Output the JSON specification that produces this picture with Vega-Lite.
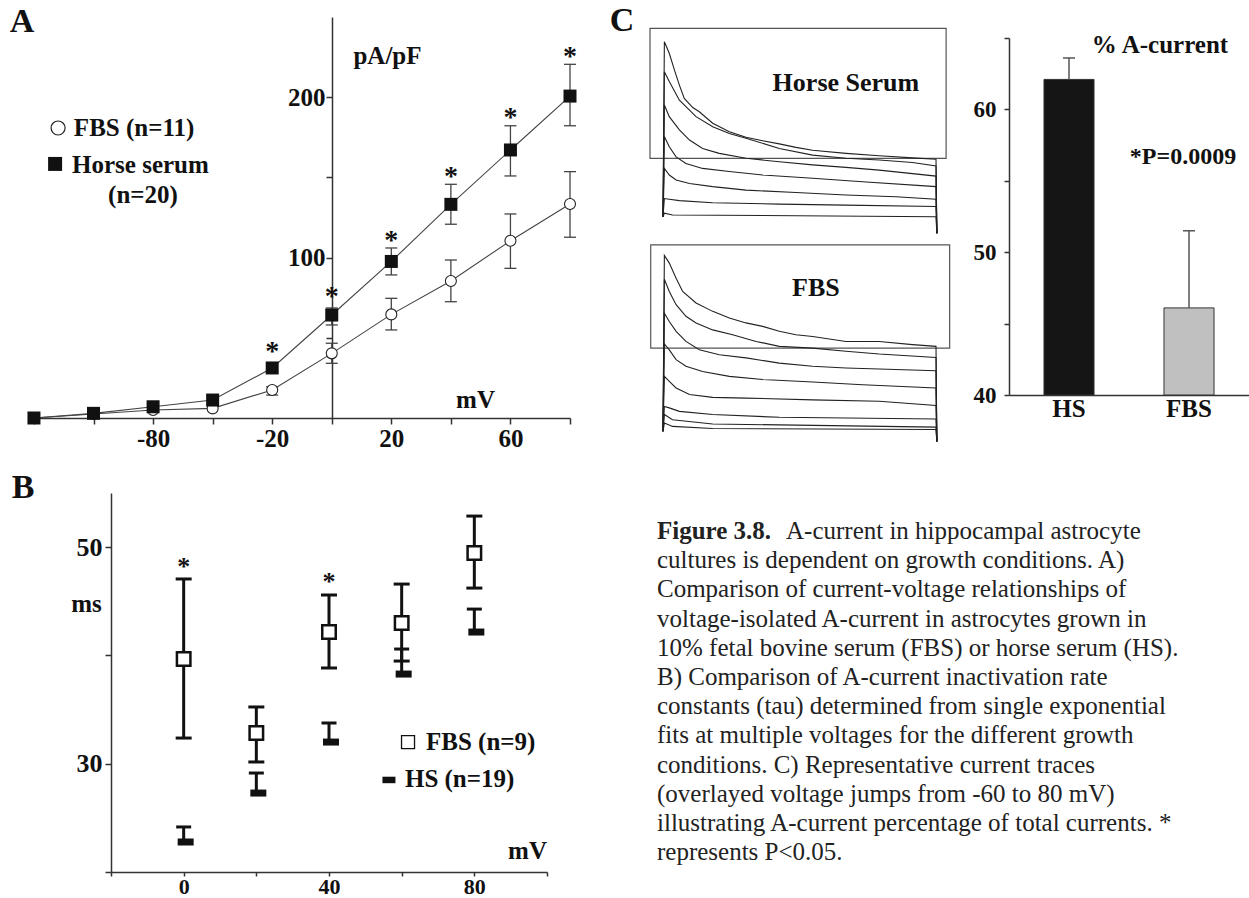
{
  "$schema": "https://vega.github.io/schema/vega-lite/v6.json",
  "background": "white",
  "padding": {"left": 9, "top": 4, "right": 0, "bottom": 0},
  "columns": 3,
  "spacing": {"row": 51, "column": 63},
  "bounds": "flush",
  "config": {
    "view": {"stroke": null},
    "axis": {"grid": false, "domainColor": "#333", "domainWidth": 1.5, "tickColor": "#333", "tickWidth": 1.5, "tickSize": 6,
      "labelFont": "Liberation Serif", "labelFontWeight": "bold", "labelFontSize": 25, "labelColor": "#111", "labelPadding": 3,
      "labelOverlap": false, "labelFlush": false,
      "titleFont": "Liberation Serif", "titleFontWeight": "bold", "titleFontSize": 25, "titleColor": "#111"},
    "text": {"font": "Liberation Serif", "fontWeight": "bold", "color": "#111"}
  },
  "datasets": {
    "iv": [
      {"g": "HS", "mv": -100, "v": 0}, {"g": "HS", "mv": -80, "v": 2.9}, {"g": "HS", "mv": -60, "v": 7}, {"g": "HS", "mv": -40, "v": 11.2},
      {"g": "HS", "mv": -20, "v": 31.2}, {"g": "HS", "mv": 0, "v": 64.2, "lo": 58, "hi": 68.6}, {"g": "HS", "mv": 20, "v": 97.6, "lo": 89.2, "hi": 106},
      {"g": "HS", "mv": 40, "v": 133.2, "lo": 120.8, "hi": 145.7}, {"g": "HS", "mv": 60, "v": 167.1, "lo": 150.9, "hi": 182.2},
      {"g": "HS", "mv": 80, "v": 200.7, "lo": 182.2, "hi": 220.5},
      {"g": "FBS", "mv": -100, "v": 0}, {"g": "FBS", "mv": -80, "v": 2.5}, {"g": "FBS", "mv": -60, "v": 5}, {"g": "FBS", "mv": -40, "v": 6},
      {"g": "FBS", "mv": -20, "v": 17.5, "lo": 14.3, "hi": 19.5}, {"g": "FBS", "mv": 0, "v": 40.3, "lo": 34.1, "hi": 46.6},
      {"g": "FBS", "mv": 20, "v": 64.6, "lo": 54.9, "hi": 74.6}, {"g": "FBS", "mv": 40, "v": 85.4, "lo": 72.5, "hi": 98.5},
      {"g": "FBS", "mv": 60, "v": 110.5, "lo": 93.3, "hi": 127.2}, {"g": "FBS", "mv": 80, "v": 133.4, "lo": 112.7, "hi": 153.6}
    ],
    "astA": [{"mv": -20, "v": 44.3}, {"mv": 0, "v": 78.6}, {"mv": 20, "v": 113.5}, {"mv": 40, "v": 153.4}, {"mv": 60, "v": 190.1}, {"mv": 80, "v": 228.2}],
    "legA": [{"g": "FBS", "mv": -91.9, "v": 180.8}, {"g": "HS", "mv": -92.9, "v": 158.4}],
    "legAtxt": [{"mv": -86.6, "v": 180.8, "label": "FBS (n=11)"}, {"mv": -87.2, "v": 157.7, "label": "Horse serum"}, {"mv": -75.1, "v": 139.3, "label": "(n=20)"}],
    "tauF": [
      {"mv": 0, "v": 39.67, "lo": 32.37, "hi": 47.06}, {"mv": 20, "v": 32.83, "lo": 30.16, "hi": 35.24},
      {"mv": 40, "v": 42.16, "lo": 38.84, "hi": 45.58}, {"mv": 60, "v": 42.99, "lo": 39.48, "hi": 46.59},
      {"mv": 80, "v": 49.45, "lo": 46.22, "hi": 52.87}
    ],
    "tauH": [
      {"mv": 0, "v": 22.77, "hi": 24.16}, {"mv": 20, "v": 27.29, "hi": 29.14}, {"mv": 40, "v": 32.0, "hi": 33.76},
      {"mv": 60, "v": 38.28, "hi": 40.59}, {"mv": 80, "v": 42.16, "hi": 44.28}
    ],
    "astB": [{"mv": 0, "v": 48.53}, {"mv": 40, "v": 47.15}],
    "traces": [
      {"g":"HS","k":1,"t":0,"i":0},{"g":"HS","k":1,"t":0.5,"i":5.0},{"g":"HS","k":1,"t":2.3,"i":4.67},{"g":"HS","k":1,"t":4.2,"i":4.19},{"g":"HS","k":1,"t":6.0,"i":3.76},{"g":"HS","k":1,"t":7.8,"i":3.38},{"g":"HS","k":1,"t":10.9,"i":3.12},{"g":"HS","k":1,"t":13.3,"i":3.0},{"g":"HS","k":1,"t":18.2,"i":2.67},{"g":"HS","k":1,"t":24.3,"i":2.43},{"g":"HS","k":1,"t":30.4,"i":2.27},{"g":"HS","k":1,"t":36.5,"i":2.17},{"g":"HS","k":1,"t":42.6,"i":2.08},{"g":"HS","k":1,"t":48.7,"i":1.98},{"g":"HS","k":1,"t":54.8,"i":1.9},{"g":"HS","k":1,"t":67.0,"i":1.81},{"g":"HS","k":1,"t":79.2,"i":1.74},{"g":"HS","k":1,"t":91.4,"i":1.68},{"g":"HS","k":1,"t":100,"i":1.64},{"g":"HS","k":1,"t":100.3,"i":-0.47},
      {"g":"HS","k":2,"t":0,"i":0},{"g":"HS","k":2,"t":0.5,"i":4.14},{"g":"HS","k":2,"t":2.3,"i":3.86},{"g":"HS","k":2,"t":6.0,"i":3.33},{"g":"HS","k":2,"t":12.1,"i":2.86},{"g":"HS","k":2,"t":18.2,"i":2.57},{"g":"HS","k":2,"t":24.3,"i":2.38},{"g":"HS","k":2,"t":30.4,"i":2.24},{"g":"HS","k":2,"t":42.6,"i":1.95},{"g":"HS","k":2,"t":54.8,"i":1.76},{"g":"HS","k":2,"t":67.0,"i":1.67},{"g":"HS","k":2,"t":79.2,"i":1.62},{"g":"HS","k":2,"t":91.4,"i":1.55},{"g":"HS","k":2,"t":100,"i":1.45},{"g":"HS","k":2,"t":100.3,"i":-0.47},
      {"g":"HS","k":3,"t":0,"i":0},{"g":"HS","k":3,"t":0.5,"i":3.19},{"g":"HS","k":3,"t":2.3,"i":2.86},{"g":"HS","k":3,"t":6.0,"i":2.48},{"g":"HS","k":3,"t":9.7,"i":2.19},{"g":"HS","k":3,"t":14.5,"i":1.95},{"g":"HS","k":3,"t":20.6,"i":1.81},{"g":"HS","k":3,"t":30.4,"i":1.67},{"g":"HS","k":3,"t":42.6,"i":1.57},{"g":"HS","k":3,"t":54.8,"i":1.48},{"g":"HS","k":3,"t":67.0,"i":1.41},{"g":"HS","k":3,"t":79.2,"i":1.33},{"g":"HS","k":3,"t":100,"i":1.16},{"g":"HS","k":3,"t":100.3,"i":-0.47},
      {"g":"HS","k":4,"t":0,"i":0},{"g":"HS","k":4,"t":0.5,"i":2.29},{"g":"HS","k":4,"t":2.3,"i":2.0},{"g":"HS","k":4,"t":4.8,"i":1.71},{"g":"HS","k":4,"t":8.4,"i":1.52},{"g":"HS","k":4,"t":14.5,"i":1.38},{"g":"HS","k":4,"t":24.3,"i":1.29},{"g":"HS","k":4,"t":36.5,"i":1.19},{"g":"HS","k":4,"t":54.8,"i":1.1},{"g":"HS","k":4,"t":73.1,"i":1.0},{"g":"HS","k":4,"t":100,"i":0.86},{"g":"HS","k":4,"t":100.3,"i":-0.47},
      {"g":"HS","k":5,"t":0,"i":0},{"g":"HS","k":5,"t":0.5,"i":1.38},{"g":"HS","k":5,"t":2.3,"i":1.19},{"g":"HS","k":5,"t":4.8,"i":1.05},{"g":"HS","k":5,"t":9.7,"i":0.95},{"g":"HS","k":5,"t":18.2,"i":0.86},{"g":"HS","k":5,"t":30.4,"i":0.76},{"g":"HS","k":5,"t":48.7,"i":0.69},{"g":"HS","k":5,"t":67.0,"i":0.62},{"g":"HS","k":5,"t":85.3,"i":0.57},{"g":"HS","k":5,"t":100,"i":0.5},{"g":"HS","k":5,"t":100.3,"i":-0.47},
      {"g":"HS","k":6,"t":0,"i":0},{"g":"HS","k":6,"t":0.5,"i":0.52},{"g":"HS","k":6,"t":2.3,"i":0.5},{"g":"HS","k":6,"t":6.0,"i":0.46},{"g":"HS","k":6,"t":18.2,"i":0.4},{"g":"HS","k":6,"t":42.6,"i":0.36},{"g":"HS","k":6,"t":67.0,"i":0.33},{"g":"HS","k":6,"t":100,"i":0.29},{"g":"HS","k":6,"t":100.3,"i":-0.47},
      {"g":"HS","k":7,"t":0,"i":0},{"g":"HS","k":7,"t":0.5,"i":0.1},{"g":"HS","k":7,"t":3.5,"i":0.05},{"g":"HS","k":7,"t":100,"i":0.0},{"g":"HS","k":7,"t":100.3,"i":-0.47},
      {"g":"FBS","k":1,"t":0,"i":0},{"g":"FBS","k":1,"t":0.5,"i":5.03},{"g":"FBS","k":1,"t":2.3,"i":4.81},{"g":"FBS","k":1,"t":4.8,"i":4.38},{"g":"FBS","k":1,"t":7.2,"i":4.0},{"g":"FBS","k":1,"t":12.1,"i":3.67},{"g":"FBS","k":1,"t":18.2,"i":3.43},{"g":"FBS","k":1,"t":24.3,"i":3.24},{"g":"FBS","k":1,"t":30.4,"i":3.1},{"g":"FBS","k":1,"t":36.5,"i":3.0},{"g":"FBS","k":1,"t":42.6,"i":2.86},{"g":"FBS","k":1,"t":48.7,"i":2.76},{"g":"FBS","k":1,"t":54.8,"i":2.71},{"g":"FBS","k":1,"t":67.0,"i":2.57},{"g":"FBS","k":1,"t":79.2,"i":2.57},{"g":"FBS","k":1,"t":91.4,"i":2.48},{"g":"FBS","k":1,"t":100,"i":2.43},{"g":"FBS","k":1,"t":100.3,"i":-0.29},
      {"g":"FBS","k":2,"t":0,"i":0},{"g":"FBS","k":2,"t":0.5,"i":4.35},{"g":"FBS","k":2,"t":2.3,"i":4.0},{"g":"FBS","k":2,"t":4.8,"i":3.62},{"g":"FBS","k":2,"t":8.4,"i":3.29},{"g":"FBS","k":2,"t":12.1,"i":3.1},{"g":"FBS","k":2,"t":18.2,"i":2.9},{"g":"FBS","k":2,"t":25.5,"i":2.76},{"g":"FBS","k":2,"t":34.1,"i":2.57},{"g":"FBS","k":2,"t":42.6,"i":2.43},{"g":"FBS","k":2,"t":54.8,"i":2.38},{"g":"FBS","k":2,"t":67.0,"i":2.29},{"g":"FBS","k":2,"t":79.2,"i":2.21},{"g":"FBS","k":2,"t":100,"i":2.11},{"g":"FBS","k":2,"t":100.3,"i":-0.29},
      {"g":"FBS","k":3,"t":0,"i":0},{"g":"FBS","k":3,"t":0.5,"i":3.38},{"g":"FBS","k":3,"t":2.3,"i":3.14},{"g":"FBS","k":3,"t":4.8,"i":2.86},{"g":"FBS","k":3,"t":8.4,"i":2.57},{"g":"FBS","k":3,"t":13.3,"i":2.33},{"g":"FBS","k":3,"t":20.6,"i":2.19},{"g":"FBS","k":3,"t":30.4,"i":2.1},{"g":"FBS","k":3,"t":42.6,"i":1.95},{"g":"FBS","k":3,"t":54.8,"i":1.86},{"g":"FBS","k":3,"t":67.0,"i":1.81},{"g":"FBS","k":3,"t":79.2,"i":1.78},{"g":"FBS","k":3,"t":100,"i":1.73},{"g":"FBS","k":3,"t":100.3,"i":-0.29},
      {"g":"FBS","k":4,"t":0,"i":0},{"g":"FBS","k":4,"t":0.5,"i":2.5},{"g":"FBS","k":4,"t":2.3,"i":2.33},{"g":"FBS","k":4,"t":4.8,"i":2.05},{"g":"FBS","k":4,"t":8.4,"i":1.86},{"g":"FBS","k":4,"t":14.5,"i":1.71},{"g":"FBS","k":4,"t":24.3,"i":1.57},{"g":"FBS","k":4,"t":36.5,"i":1.48},{"g":"FBS","k":4,"t":54.8,"i":1.41},{"g":"FBS","k":4,"t":73.1,"i":1.33},{"g":"FBS","k":4,"t":100,"i":1.24},{"g":"FBS","k":4,"t":100.3,"i":-0.29},
      {"g":"FBS","k":5,"t":0,"i":0},{"g":"FBS","k":5,"t":0.5,"i":1.57},{"g":"FBS","k":5,"t":2.3,"i":1.43},{"g":"FBS","k":5,"t":4.8,"i":1.24},{"g":"FBS","k":5,"t":9.7,"i":1.05},{"g":"FBS","k":5,"t":18.2,"i":0.97},{"g":"FBS","k":5,"t":30.4,"i":0.95},{"g":"FBS","k":5,"t":54.8,"i":0.9},{"g":"FBS","k":5,"t":79.2,"i":0.86},{"g":"FBS","k":5,"t":100,"i":0.74},{"g":"FBS","k":5,"t":100.3,"i":-0.29},
      {"g":"FBS","k":6,"t":0,"i":0},{"g":"FBS","k":6,"t":0.5,"i":0.71},{"g":"FBS","k":6,"t":2.3,"i":0.67},{"g":"FBS","k":6,"t":6.0,"i":0.57},{"g":"FBS","k":6,"t":18.2,"i":0.48},{"g":"FBS","k":6,"t":42.6,"i":0.4},{"g":"FBS","k":6,"t":100,"i":0.35},{"g":"FBS","k":6,"t":100.3,"i":-0.29},
      {"g":"FBS","k":7,"t":0,"i":0},{"g":"FBS","k":7,"t":0.5,"i":0.48},{"g":"FBS","k":7,"t":3.5,"i":0.33},{"g":"FBS","k":7,"t":18.2,"i":0.21},{"g":"FBS","k":7,"t":100,"i":0.12},{"g":"FBS","k":7,"t":100.3,"i":-0.29},
      {"g":"FBS","k":8,"t":0,"i":0},{"g":"FBS","k":8,"t":0.5,"i":0.24},{"g":"FBS","k":8,"t":3.5,"i":0.14},{"g":"FBS","k":8,"t":18.2,"i":0.08},{"g":"FBS","k":8,"t":100,"i":0.05},{"g":"FBS","k":8,"t":100.3,"i":-0.29}
    ],
    "caption": [
      {"line": 1, "part": "lead", "txt": "Figure 3.8."},
      {"line": 1, "part": "rest", "txt": "A-current in hippocampal astrocyte"},
      {"line": 2, "part": "body", "txt": "cultures is dependent on growth conditions. A)"},
      {"line": 3, "part": "body", "txt": "Comparison of current-voltage relationships of"},
      {"line": 4, "part": "body", "txt": "voltage-isolated A-current in astrocytes grown in"},
      {"line": 5, "part": "body", "txt": "10% fetal bovine serum (FBS) or horse serum (HS)."},
      {"line": 6, "part": "body", "txt": "B) Comparison of A-current inactivation rate"},
      {"line": 7, "part": "body", "txt": "constants (tau) determined from single exponential"},
      {"line": 8, "part": "body", "txt": "fits at multiple voltages for the different growth"},
      {"line": 9, "part": "body", "txt": "conditions. C) Representative current traces"},
      {"line": 10, "part": "body", "txt": "(overlayed voltage jumps from -60 to 80 mV)"},
      {"line": 11, "part": "body", "txt": "illustrating A-current percentage of total currents. *"},
      {"line": 12, "part": "body", "txt": "represents P<0.05."}
    ]
  },
  "concat": [
    {
      "width": 542, "height": 401,
      "layer": [
        {"data": {"name": "iv"}, "mark": {"type": "line", "color": "#444", "strokeWidth": 1.1},
         "encoding": {
           "x": {"field": "mv", "type": "quantitative", "scale": {"domain": [-102, 80], "nice": false, "zero": false},
                 "axis": {"values": [-100, -80, -60, -40, -20, 0, 20, 40, 60, 80],
                          "labelExpr": "datum.value == -60 ? '-80' : datum.value == -20 ? '-20' : datum.value == 20 ? '20' : datum.value == 60 ? '60' : ''",
                          "labelPadding": 2,
                          "title": "mV", "titleX": 447, "titleY": -11, "titleAlign": "center", "titleBaseline": "alphabetic", "titleFontSize": 25}},
           "y": {"field": "v", "type": "quantitative", "scale": {"domain": [0, 250], "nice": false},
                 "axis": {"values": [50, 100, 150, 200], "labelExpr": "datum.value == 100 || datum.value == 200 ? datum.label : ''",
                          "offset": -304, "labelPadding": 1, "title": "pA/pF", "titleAngle": 0, "titleX": 55, "titleY": 46,
                          "titleAlign": "center", "titleBaseline": "alphabetic", "titleFontSize": 25}},
           "detail": {"field": "g", "type": "nominal"}
         }},
        {"data": {"name": "iv"}, "transform": [{"filter": "isValid(datum.lo)"}],
         "mark": {"type": "rule", "color": "#444", "strokeWidth": 1.3},
         "encoding": {"x": {"field": "mv", "type": "quantitative"}, "y": {"field": "lo", "type": "quantitative"}, "y2": {"field": "hi"}}},
        {"data": {"name": "iv"}, "transform": [{"filter": "isValid(datum.lo)"}],
         "mark": {"type": "tick", "orient": "horizontal", "size": 12, "thickness": 1.3, "color": "#444", "opacity": 1},
         "encoding": {"x": {"field": "mv", "type": "quantitative"}, "y": {"field": "lo", "type": "quantitative"}}},
        {"data": {"name": "iv"}, "transform": [{"filter": "isValid(datum.hi)"}],
         "mark": {"type": "tick", "orient": "horizontal", "size": 12, "thickness": 1.3, "color": "#444", "opacity": 1},
         "encoding": {"x": {"field": "mv", "type": "quantitative"}, "y": {"field": "hi", "type": "quantitative"}}},
        {"data": {"name": "iv"}, "transform": [{"filter": "datum.g == 'FBS'"}],
         "mark": {"type": "point", "shape": "circle", "size": 121, "filled": true, "fill": "white", "stroke": "#222", "strokeWidth": 1.1, "opacity": 1},
         "encoding": {"x": {"field": "mv", "type": "quantitative"}, "y": {"field": "v", "type": "quantitative"}}},
        {"data": {"name": "iv"}, "transform": [{"filter": "datum.g == 'HS'"}],
         "mark": {"type": "point", "shape": "square", "size": 169, "filled": true, "color": "#111", "opacity": 1},
         "encoding": {"x": {"field": "mv", "type": "quantitative"}, "y": {"field": "v", "type": "quantitative"}}},
        {"data": {"name": "astA"}, "mark": {"type": "text", "text": "*", "fontSize": 28, "baseline": "middle", "dy": 5},
         "encoding": {"x": {"field": "mv", "type": "quantitative"}, "y": {"field": "v", "type": "quantitative"}}},
        {"data": {"name": "legA"}, "transform": [{"filter": "datum.g == 'FBS'"}],
         "mark": {"type": "point", "shape": "circle", "size": 196, "filled": true, "fill": "white", "stroke": "#222", "strokeWidth": 1.2, "opacity": 1},
         "encoding": {"x": {"field": "mv", "type": "quantitative"}, "y": {"field": "v", "type": "quantitative"}}},
        {"data": {"name": "legA"}, "transform": [{"filter": "datum.g == 'HS'"}],
         "mark": {"type": "point", "shape": "square", "size": 196, "filled": true, "color": "#111", "opacity": 1},
         "encoding": {"x": {"field": "mv", "type": "quantitative"}, "y": {"field": "v", "type": "quantitative"}}},
        {"data": {"name": "legAtxt"}, "mark": {"type": "text", "align": "left", "baseline": "middle", "fontSize": 25},
         "encoding": {"x": {"field": "mv", "type": "quantitative"}, "y": {"field": "v", "type": "quantitative"}, "text": {"field": "label"}}},
        {"data": {"values": [{"mv": -104, "v": 246.9, "label": "A"}]}, "mark": {"type": "text", "align": "center", "baseline": "middle", "fontSize": 34},
         "encoding": {"x": {"field": "mv", "type": "quantitative"}, "y": {"field": "v", "type": "quantitative"}, "text": {"field": "label"}}}
      ]
    },
    {
      "width": 313, "height": 425,
      "resolve": {"scale": {"y": "independent"}},
      "layer": [
        {"layer": [
          {"data": {"values": [{"t1": -4.76, "t2": 103.7, "i1": 1.667, "i2": 5.38}]},
           "mark": {"type": "rect", "fill": "white", "fillOpacity": 0, "stroke": "#555", "strokeWidth": 1.2},
           "encoding": {"x": {"field": "t1", "type": "quantitative", "scale": {"domain": [-10.99, 103.66], "nice": false, "zero": false}, "axis": null},
                        "x2": {"field": "t2"},
                        "y": {"field": "i1", "type": "quantitative", "scale": {"domain": [-6.437, 5.706], "nice": false, "zero": false}, "axis": null},
                        "y2": {"field": "i2"}}},
          {"data": {"name": "traces"}, "transform": [{"filter": "datum.g == 'HS'"}],
           "mark": {"type": "line", "color": "#222", "strokeWidth": 1.1},
           "encoding": {"x": {"field": "t", "type": "quantitative", "axis": null}, "y": {"field": "i", "type": "quantitative", "axis": null}, "detail": {"field": "k", "type": "nominal"}}},
          {"data": {"values": [{"t": 67.0, "i": 3.82, "label": "Horse Serum"}]},
           "mark": {"type": "text", "align": "center", "baseline": "middle", "fontSize": 26},
           "encoding": {"x": {"field": "t", "type": "quantitative", "axis": null}, "y": {"field": "i", "type": "quantitative", "axis": null}, "text": {"field": "label"}}},
          {"data": {"values": [{"t": -15.0, "i": 5.59, "label": "C"}]},
           "mark": {"type": "text", "align": "center", "baseline": "middle", "fontSize": 34},
           "encoding": {"x": {"field": "t", "type": "quantitative", "axis": null}, "y": {"field": "i", "type": "quantitative", "axis": null}, "text": {"field": "label"}}}
        ]},
        {"layer": [
          {"data": {"values": [{"t1": -4.5, "t2": 105, "i1": 2.38, "i2": 5.33}]},
           "mark": {"type": "rect", "fill": "white", "fillOpacity": 0, "stroke": "#555", "strokeWidth": 1.2},
           "encoding": {"x": {"field": "t1", "type": "quantitative", "axis": null},
                        "x2": {"field": "t2"},
                        "y": {"field": "i1", "type": "quantitative", "scale": {"domain": [-0.306, 11.849], "nice": false, "zero": false}, "axis": null},
                        "y2": {"field": "i2"}}},
          {"data": {"name": "traces"}, "transform": [{"filter": "datum.g == 'FBS'"}],
           "mark": {"type": "line", "color": "#222", "strokeWidth": 1.1},
           "encoding": {"x": {"field": "t", "type": "quantitative", "axis": null}, "y": {"field": "i", "type": "quantitative", "axis": null}, "detail": {"field": "k", "type": "nominal"}}},
          {"data": {"values": [{"t": 56.0, "i": 4.1, "label": "FBS"}]},
           "mark": {"type": "text", "align": "center", "baseline": "middle", "fontSize": 26},
           "encoding": {"x": {"field": "t", "type": "quantitative", "axis": null}, "y": {"field": "i", "type": "quantitative", "axis": null}, "text": {"field": "label"}}}
        ]}
      ]
    },
    {
      "width": 240, "height": 378,
      "data": {"values": [{"cat": "HS", "v": 62.1, "hi": 63.6}, {"cat": "FBS", "v": 46.1, "hi": 51.5}]},
      "encoding": {"x": {"field": "cat", "type": "nominal", "sort": ["HS", "FBS"], "scale": {"paddingInner": 0.583, "paddingOuter": 0.2915},
                         "axis": {"title": null, "labelAngle": 0, "ticks": false, "labelFontSize": 25, "labelPadding": 1}}},
      "layer": [
        {"mark": {"type": "bar", "stroke": "#333", "strokeWidth": 1},
         "encoding": {"y": {"field": "v", "type": "quantitative", "scale": {"domain": [40, 65], "range": [378, 21], "nice": false, "zero": false},
                            "axis": {"values": [40, 45, 50, 55, 60, 65], "labelExpr": "datum.value % 10 == 0 && datum.value < 65 ? datum.label : ''",
                                     "title": null, "tickSize": 5, "labelPadding": 8, "labelFontSize": 23}},
                      "y2": {"datum": 40},
                      "color": {"field": "cat", "type": "nominal", "scale": {"domain": ["HS", "FBS"], "range": ["#151515", "#c0c0c0"]}, "legend": null}}},
        {"mark": {"type": "rule", "color": "#555", "strokeWidth": 1.5},
         "encoding": {"y": {"field": "v", "type": "quantitative"}, "y2": {"field": "hi"}}},
        {"mark": {"type": "tick", "orient": "horizontal", "size": 12, "thickness": 1.5, "color": "#555", "opacity": 1},
         "encoding": {"y": {"field": "hi", "type": "quantitative"}}},
        {"data": {"values": [{"cat": "FBS", "y": 64.51, "label": "% A-current"}]},
         "mark": {"type": "text", "dx": -29, "fontSize": 25, "baseline": "middle", "align": "center"},
         "encoding": {"y": {"field": "y", "type": "quantitative"}, "text": {"field": "label"}}},
        {"data": {"values": [{"cat": "FBS", "y": 56.67, "label": "*P=0.0009"}]},
         "mark": {"type": "text", "dx": -6, "fontSize": 24, "baseline": "middle", "align": "center"},
         "encoding": {"y": {"field": "y", "type": "quantitative"}, "text": {"field": "label"}}}
      ]
    },
    {
      "width": 519, "height": 379,
      "layer": [
        {"data": {"name": "tauF"}, "mark": {"type": "rule", "color": "#111", "strokeWidth": 3},
         "encoding": {
           "x": {"field": "mv", "type": "quantitative", "scale": {"domain": [-20, 100], "range": [83, 519], "nice": false, "zero": false},
                 "axis": {"values": [-20, 0, 20, 40, 60, 80, 100], "labelExpr": "datum.value == 0 || datum.value == 40 || datum.value == 80 ? datum.label : ''",
                          "labelFontSize": 22, "labelPadding": 0, "tickSize": 4, "title": "mV", "titleX": 499, "titleY": -14, "titleAlign": "center", "titleBaseline": "alphabetic"}},
           "y": {"field": "lo", "type": "quantitative", "scale": {"domain": [20, 55], "nice": false, "zero": false},
                 "axis": {"values": [20, 30, 40, 50], "labelExpr": "datum.value == 30 || datum.value == 50 ? datum.label : ''",
                          "labelFontSize": 26, "offset": -83, "title": "ms", "titleAngle": 0, "titleX": -25, "titleY": 118, "titleAlign": "center", "titleBaseline": "alphabetic"}},
           "y2": {"field": "hi"}
         }},
        {"data": {"name": "tauF"}, "mark": {"type": "tick", "orient": "horizontal", "size": 16, "thickness": 3, "color": "#111", "opacity": 1},
         "encoding": {"x": {"field": "mv", "type": "quantitative"}, "y": {"field": "lo", "type": "quantitative"}}},
        {"data": {"name": "tauF"}, "mark": {"type": "tick", "orient": "horizontal", "size": 16, "thickness": 3, "color": "#111", "opacity": 1},
         "encoding": {"x": {"field": "mv", "type": "quantitative"}, "y": {"field": "hi", "type": "quantitative"}}},
        {"data": {"name": "tauH"}, "mark": {"type": "rule", "color": "#111", "strokeWidth": 3},
         "encoding": {"x": {"field": "mv", "type": "quantitative"}, "y": {"field": "v", "type": "quantitative"}, "y2": {"field": "hi"}}},
        {"data": {"name": "tauH"}, "mark": {"type": "tick", "orient": "horizontal", "size": 15, "thickness": 3, "color": "#111", "opacity": 1},
         "encoding": {"x": {"field": "mv", "type": "quantitative"}, "y": {"field": "hi", "type": "quantitative"}}},
        {"data": {"name": "tauF"}, "mark": {"type": "point", "shape": "square", "size": 182, "filled": true, "fill": "white", "stroke": "#111", "strokeWidth": 2.5, "opacity": 1},
         "encoding": {"x": {"field": "mv", "type": "quantitative"}, "y": {"field": "v", "type": "quantitative"}}},
        {"data": {"name": "tauH"}, "mark": {"type": "point", "shape": "M-0.6,-0.35H1V0.35H-0.6Z", "size": 400, "filled": true, "color": "#111", "opacity": 1},
         "encoding": {"x": {"field": "mv", "type": "quantitative"}, "y": {"field": "v", "type": "quantitative"}}},
        {"data": {"name": "astB"}, "mark": {"type": "text", "text": "*", "fontSize": 26, "baseline": "middle", "dy": 4},
         "encoding": {"x": {"field": "mv", "type": "quantitative"}, "y": {"field": "v", "type": "quantitative"}}},
        {"data": {"values": [{"g": "FBS", "mv": 61.75, "v": 32.0}]},
         "mark": {"type": "point", "shape": "square", "size": 169, "filled": true, "fill": "white", "stroke": "#111", "strokeWidth": 1.3, "opacity": 1},
         "encoding": {"x": {"field": "mv", "type": "quantitative"}, "y": {"field": "v", "type": "quantitative"}}},
        {"data": {"values": [{"g": "HS", "mv": 56.5, "v": 28.5}]},
         "mark": {"type": "point", "shape": "M-1,-0.5H1V0.5H-1Z", "size": 169, "filled": true, "color": "#111", "opacity": 1},
         "encoding": {"x": {"field": "mv", "type": "quantitative"}, "y": {"field": "v", "type": "quantitative"}}},
        {"data": {"values": [{"mv": 66.7, "v": 32.0, "label": "FBS (n=9)"}, {"mv": 60.9, "v": 28.6, "label": "HS (n=19)"}]},
         "mark": {"type": "text", "align": "left", "baseline": "middle", "fontSize": 25},
         "encoding": {"x": {"field": "mv", "type": "quantitative"}, "y": {"field": "v", "type": "quantitative"}, "text": {"field": "label"}}},
        {"data": {"values": [{"mv": -44.2, "v": 55.46, "label": "B"}]},
         "mark": {"type": "text", "align": "center", "baseline": "middle", "fontSize": 34},
         "encoding": {"x": {"field": "mv", "type": "quantitative"}, "y": {"field": "v", "type": "quantitative"}, "text": {"field": "label"}}}
      ]
    },
    {
      "width": 313, "height": 379,
      "data": {"name": "caption"},
      "encoding": {
        "x": {"datum": 0, "type": "quantitative", "scale": {"domain": [0, 1], "nice": false, "zero": false}, "axis": null},
        "y": {"field": "line", "type": "quantitative", "scale": {"domain": [-0.3, 12.68], "reverse": true, "nice": false, "zero": false}, "axis": null},
        "text": {"field": "txt"}
      },
      "layer": [
        {"transform": [{"filter": "datum.part == 'body'"}],
         "mark": {"type": "text", "align": "left", "baseline": "middle", "dx": 24, "fontSize": 25, "fontWeight": "normal", "color": "#222"}},
        {"transform": [{"filter": "datum.part == 'lead'"}],
         "mark": {"type": "text", "align": "left", "baseline": "middle", "dx": 24, "fontSize": 25, "fontWeight": "bold", "color": "#222"}},
        {"transform": [{"filter": "datum.part == 'rest'"}],
         "mark": {"type": "text", "align": "left", "baseline": "middle", "dx": 153, "fontSize": 25, "fontWeight": "normal", "color": "#222"}}
      ]
    }
  ]
}
